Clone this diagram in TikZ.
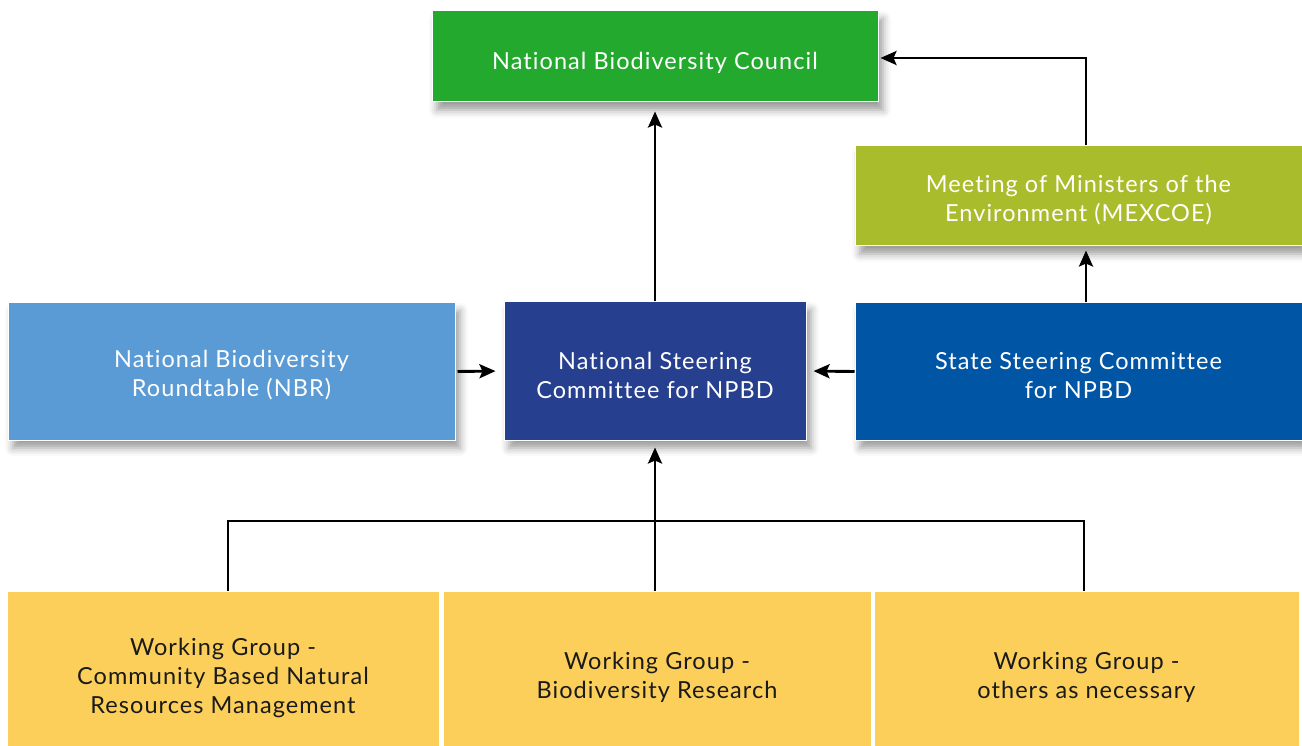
\documentclass[tikz,border=0pt]{standalone}
\usepackage{fontspec}
\setmainfont{Lato}[Ligatures=NoCommon, LetterSpace=4.5]
\usetikzlibrary{shadows.blur,arrows.meta}
\definecolor{cgreen}{HTML}{23A92E}
\definecolor{colive}{HTML}{A9BC2B}
\definecolor{clblue}{HTML}{5A9BD5}
\definecolor{cnavy}{HTML}{263F8E}
\definecolor{cblue}{HTML}{0055A5}
\definecolor{cyellow}{HTML}{FBCF5A}
\definecolor{ctext}{HTML}{1A1A1A}
\tikzset{
  box/.style={draw=white, line width=1pt, inner sep=0pt,
    blur shadow={shadow xshift=5pt, shadow yshift=-8pt, shadow blur radius=8pt, shadow opacity=40}},
  wg/.style={draw=white, line width=1pt, inner sep=0pt, fill=cyellow, minimum height=155pt},
  txt/.style={align=center, inner sep=0pt, yshift=-4pt,
    font=\fontsize{23.5}{29}\selectfont, text=white},
  nbctxt/.style={txt, yshift=-2pt},
  wtxt/.style={txt, text=ctext, yshift=-5pt},
  arr/.style={line width=2.9pt, -{Stealth[length=16pt,width=14pt,inset=3pt]}},
  ln/.style={line width=2.9pt}
}
\begin{document}
\begin{tikzpicture}[x=1pt,y=-1pt]
\useasboundingbox (0,0) rectangle (1302,746);
\node[box, fill=cgreen, minimum width=446pt, minimum height=91pt,
  label={[nbctxt]center:National Biodiversity Council}] (nbc) at (655,56.5) {};
\node[box, fill=colive, minimum width=447pt, minimum height=100pt,
  label={[txt]center:{Meeting of Ministers of the\\Environment (MEXCOE)}}] (mex) at (1078.5,196) {};
\node[box, fill=clblue, minimum width=447pt, minimum height=137pt,
  label={[txt]center:{National Biodiversity\\Roundtable (NBR)}}] (nbr) at (231.5,371.5) {};
\node[box, fill=cnavy, minimum width=302pt, minimum height=138pt,
  label={[txt]center:{National Steering\\Committee for NPBD}}] (nsc) at (655,371) {};
\node[box, fill=cblue, minimum width=447pt, minimum height=137pt,
  label={[txt]center:{State Steering Committee\\for NPBD}}] (ssc) at (1078.5,371.5) {};
\node[wg, minimum width=432pt,
  label={[wtxt]center:{Working Group -\\Community Based Natural\\Resources Management}}] (wg1) at (223,668.5) {};
\node[wg, minimum width=428pt,
  label={[wtxt]center:{Working Group -\\Biodiversity Research}}] (wg2) at (657,668.5) {};
\node[wg, minimum width=425pt,
  label={[wtxt]center:{Working Group -\\others as necessary}}] (wg3) at (1086.5,668.5) {};

\coordinate (jl) at (228,521);
\coordinate (jr) at (1084,521);
\coordinate (tr) at (1086,58);

\draw[arr, shorten >=9pt] (nsc.north -| nbc.south) -- (nbc.south);
\draw[arr, shorten >=2pt] (mex.north -| tr) -- (tr) -- (tr -| nbc.east);
\draw[arr, shorten >=4pt] (ssc.north -| tr) -- (mex.south -| tr);
\draw[arr, shorten >=8pt, shorten <=2pt] (nbr.east) -- (nsc.west);
\draw[arr, shorten >=7pt] (ssc.west) -- (nsc.east);
\draw[ln] (wg1.north -| jl) -- (jl) -- (jr) -- (wg3.north -| jr);
\draw[arr, shorten >=7pt] (wg2.north -| nsc.south) -- (nsc.south);
\end{tikzpicture}
\end{document}
